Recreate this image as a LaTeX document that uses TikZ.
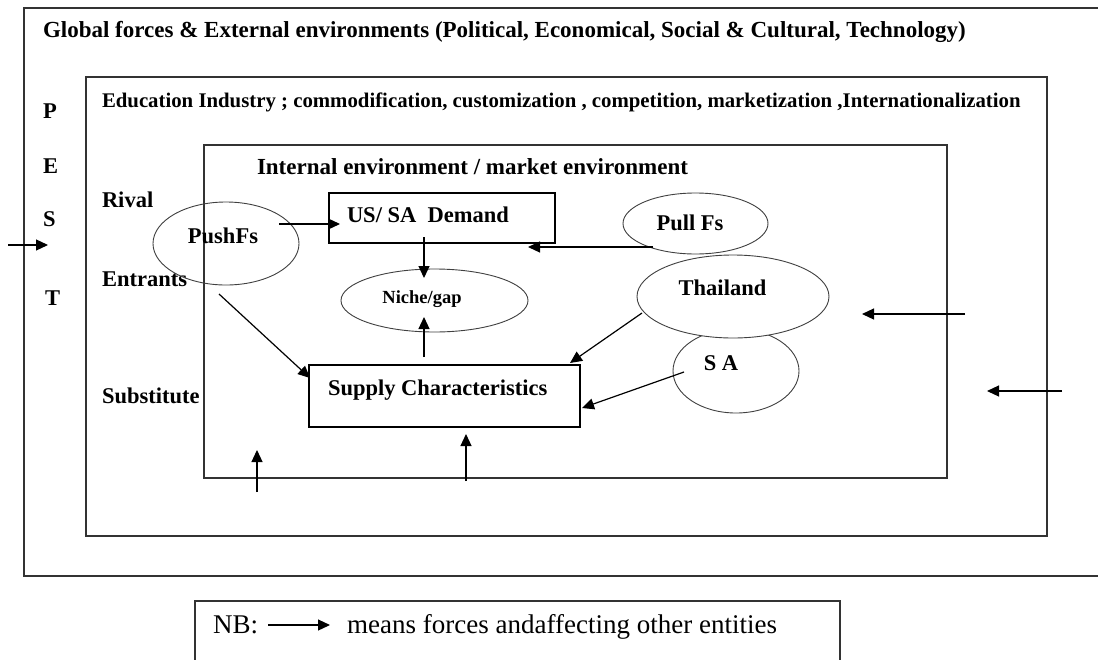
\documentclass[tikz,border=0pt]{standalone}
\usepackage{fontspec}
\setmainfont{Liberation Serif}
\usetikzlibrary{shapes.geometric,arrows.meta,calc}

\tikzset{
  frame/.style={draw=black!80, line width=1.1pt, inner sep=0pt, outer sep=0pt},
  oval/.style={ellipse, draw=black!75, line width=0.9pt, inner sep=0pt, outer sep=0pt},
  arr/.style={-{Triangle[length=12pt,width=11pt]}, line width=1.2pt, black},
  lbl/.style={inner sep=0pt, outer sep=0pt, font=\bfseries\fontsize{22.5}{26}\selectfont},
  lblL/.style={lbl, anchor=base west},
  lblC/.style={lbl, anchor=base},
}

\begin{document}
\begin{tikzpicture}[x=1pt,y=-1pt]
\useasboundingbox (0,0) rectangle (1098,659);
\fill[white] (0,0) rectangle (1098,659);
\clip (0,0) rectangle (1098,659);

% nested environment frames
\node[frame, minimum width=1086, minimum height=568] (outer) at (567,292) {};
\node[frame, minimum width=961, minimum height=459] (industry) at (566.5,306.5) {};
\node[frame, minimum width=743, minimum height=333] (inner) at (575.5,311.5) {};
\node[frame, minimum width=645, minimum height=90] (nbbox) at (517.5,646) {};

% frame headings
\node[lblL, font=\bfseries\fontsize{23}{27}\selectfont] (global) at (43,37.3)
  {Global forces \& External environments (Political, Economical, Social \& Cultural, Technology)};
\node[lblL, font=\bfseries\fontsize{20.8}{25}\selectfont] (eduind) at (102,107)
  {Education Industry ; commodification, customization , competition, marketization ,Internationalization};
\node[lblL, font=\bfseries\fontsize{23}{27}\selectfont] (internal) at (257,174)
  {Internal environment / market environment};

% PEST letters
\node[lblL] (pP) at (43,118) {P};
\node[lblL] (pE) at (43,173) {E};
\node[lblL] (pS) at (43,226) {S};
\node[lblL] (pT) at (45,305) {T};

% competitive forces
\node[lblL] (rival) at (102,207) {Rival};
\node[lblL] (entrants) at (102,286) {Entrants};
\node[lblL] (subst) at (102,403) {Substitute};

% entities
\node[oval, minimum width=146, minimum height=83] (push) at (226,243.5) {};
\node[lblC] (pusht) at (223,243) {PushFs};

\node[oval, minimum width=145, minimum height=61] (pull) at (695.5,223.5) {};
\node[lblC] (pullt) at (690,230) {Pull Fs};

\node[oval, minimum width=187, minimum height=63] (niche) at (434.5,300.5) {};
\node[lblC, font=\bfseries\fontsize{18.5}{22}\selectfont] (nichet) at (422,303) {Niche/gap};

\node[oval, minimum width=126, minimum height=84] (sa) at (736,371) {};
\node[lblC] (sat) at (721,370) {S A};

\node[oval, fill=white, minimum width=192, minimum height=83] (thai) at (733,296.5) {};
\node[lblC] (thait) at (722.5,295) {Thailand};

\node[frame, draw=black, minimum width=226, minimum height=50] (dem) at (442,218) {};
\node[lblL] (demt) at (347,222) {US/ SA\ \ Demand};

\node[frame, draw=black, minimum width=271, minimum height=62] (sup) at (444.5,396) {};
\node[lblL] (supt) at (328,395) {Supply Characteristics};

% influences between entities
\draw[arr] ($(push.center)+(53,-19.5)$) -- ($(dem.west)+(11,6)$);
\draw[arr] ($(pull.center)+(-42.5,23.5)$) -- ($(dem.south east)+(-27,4)$);
\draw[arr] ($(dem.south)+(-18,-6)$) -- ($(niche.north)+(-10.5,9)$);
\draw[arr] ($(sup.north)+(-20.5,-8)$) -- ($(niche.south)+(-10.5,-15)$);
\draw[arr] ($(push.center)+(-7,50.5)$) -- ($(sup.north west)+(1,13)$);
\draw[arr] ($(thai.center)+(-91,16.5)$) -- ($(sup.north east)+(-10,-2)$);
\draw[arr] ($(sa.center)+(-52,1)$) -- ($(sup.east)+(2,12)$);

% forces from the surrounding environments
\coordinate (pestA) at (8,245);   \coordinate (pestB) at (48,245);
\coordinate (upA1) at (257,492);  \coordinate (upA2) at (257,450);
\coordinate (upB1) at (466,481);  \coordinate (upB2) at (466,434);
\coordinate (rtA1) at (965,314);  \coordinate (rtA2) at (862,314);
\coordinate (rtB1) at (1062,391); \coordinate (rtB2) at (987,391);
\draw[arr] (pestA) -- (pestB);
\draw[arr] (upA1) -- (upA2);
\draw[arr] (upB1) -- (upB2);
\draw[arr] (rtA1) -- (rtA2);
\draw[arr] (rtB1) -- (rtB2);

% legend
\node[inner sep=0pt, anchor=base west, font=\fontsize{27}{31}\selectfont] (nb) at (213,633) {NB:};
\node[inner sep=0pt, anchor=base west, font=\fontsize{27}{31}\selectfont] (means) at (347,633)
  {means forces andaffecting other entities};
\coordinate (nbA) at (268,625); \coordinate (nbB) at (330,625);
\draw[arr] (nbA) -- (nbB);
\end{tikzpicture}
\end{document}
